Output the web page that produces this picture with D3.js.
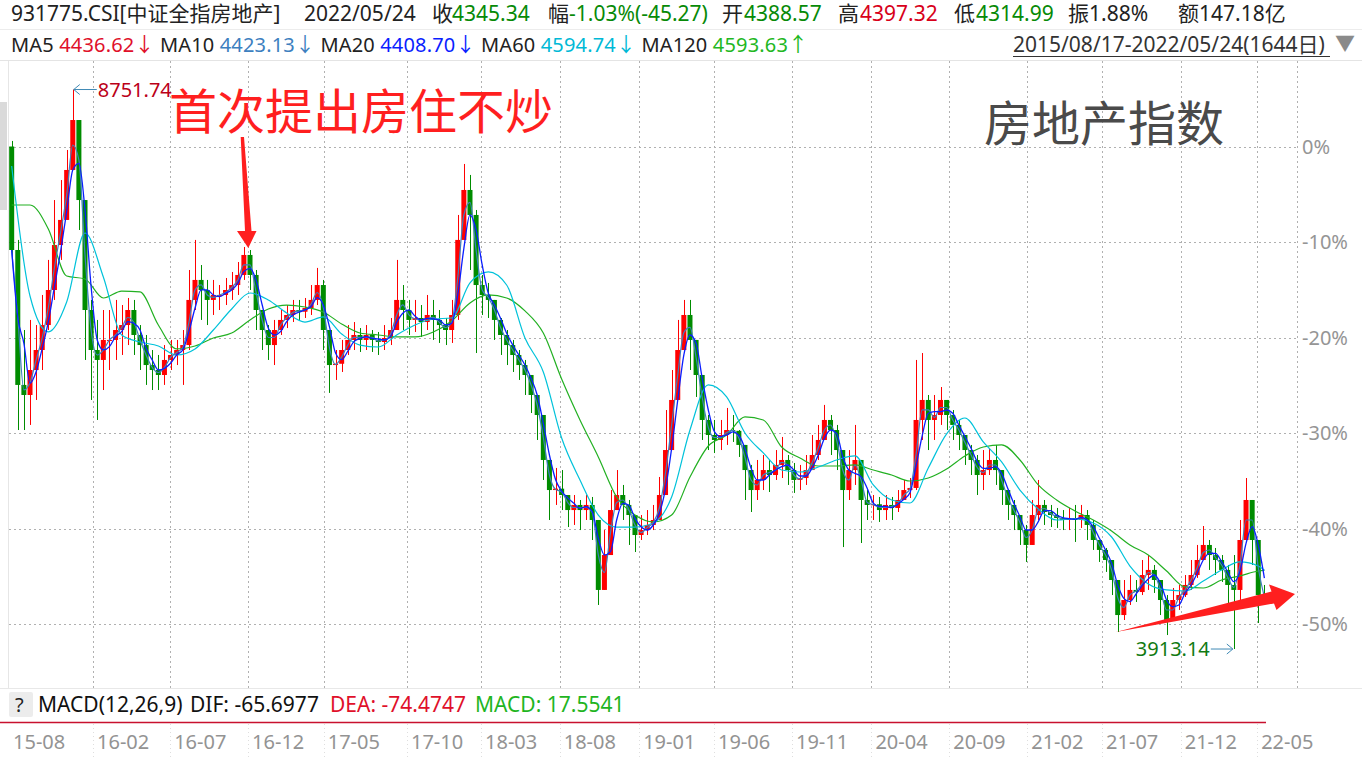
<!DOCTYPE html>
<html><head><meta charset="utf-8">
<script src="https://cdn.jsdelivr.net/npm/d3@7"></script>
<style>
body{margin:0;background:#fff;}
svg{display:block;font-family:"Noto Sans","Noto Sans CJK SC",sans-serif;}
</style></head>
<body><svg id="chart" width="1362" height="757"></svg>
<script>
// ---------------- data ----------------
const basePrice = 8259;          // price at the 0% line
const totalDays = 1644;          // trading days shown
const candleSpan = 8;            // trading days per drawn candle
const closes = [7364,6197,6110,6326,6499,6715,7018,7407,7624,8056,
8488,7796,6845,6499,6413,6586,6586,6672,6715,6845,
6629,6542,6369,6326,6283,6413,6456,6499,6542,6932,
7105,7018,6932,6975,6975,7018,7061,7148,7321,7148,
6845,6672,6542,6672,6759,6802,6845,6830,6862,6932,
7061,6672,6369,6380,6499,6586,6629,6586,6629,6586,
6568,6603,6672,6932,6845,6759,6776,6741,6802,6759,
6715,6672,6802,7451,7883,7667,7061,6975,6932,6759,
6629,6542,6456,6369,6283,6110,5937,5548,5288,5300,
5245,5115,5159,5115,5159,5029,4424,4726,5115,5245,
5159,5072,4899,4942,4986,5029,5245,5634,6067,6499,
6802,6586,6283,5894,5764,5721,5764,5807,5800,5678,
5461,5288,5375,5461,5418,5505,5548,5461,5375,5392,
5461,5591,5721,5894,5807,5634,5288,5461,5548,5202,
5159,5165,5115,5159,5133,5202,5288,5306,5894,6067,
5894,5937,6067,5937,5851,5764,5634,5548,5418,5461,
5548,5461,5288,5159,5072,4942,4813,5072,5159,5098,
5072,5046,5029,5046,5029,5072,4986,4856,4770,4683,
4510,4207,4337,4424,4406,4553,4597,4510,4337,4164,
4337,4380,4467,4553,4683,4813,4726,4683,4597,4467,
4424,4856,5202,4856,4380,4345.34];
const highs = [8307,7451,6672,6759,6715,6975,7278,7796,7969,8229,
8751.74,8488,7537,6932,6759,6845,6845,6932,6888,6949,
6932,6715,6629,6499,6456,6542,6586,6586,6672,7191,
7451,7234,7105,7105,7061,7122,7174,7260,7390,7364,
7191,6802,6715,6759,6845,6888,6932,6932,6949,7061,
7209,7105,6672,6499,6586,6715,6741,6689,6715,6672,
6655,6715,6776,7278,7061,6932,6932,6888,6975,6932,
6845,6776,6932,7667,8108,8013,7710,7148,7079,6932,
6776,6672,6586,6499,6413,6283,6110,5894,5505,5479,
5461,5245,5245,5202,5245,5228,4942,4942,5288,5461,
5332,5202,5072,5072,5115,5159,5401,5980,6326,6759,
6932,6932,6586,6153,5937,5894,5894,5998,5937,5807,
5634,5505,5548,5591,5548,5634,5747,5591,5522,5505,
5591,5764,5851,6024,5937,5851,5591,5634,5851,5548,
5288,5245,5228,5245,5228,5288,5375,5392,6413,6473,
6110,6110,6179,6067,5980,5894,5764,5678,5591,5634,
5652,5678,5418,5288,5202,5072,4986,5202,5375,5202,
5159,5133,5115,5133,5159,5159,5115,5029,4856,4787,
4683,4467,4510,4553,4510,4683,4726,4640,4510,4380,
4441,4467,4553,4683,4813,4977,4856,4787,4726,4640,
4726,5029,5392,5115,4597,4467];
const lows = [7260,5807,5807,5851,6067,6326,6672,6932,7278,7667,
8142,7537,6413,6067,5894,6153,6326,6413,6456,6542,
6456,6326,6197,6153,6153,6197,6326,6369,6197,6499,
6845,6759,6715,6802,6845,6888,6932,6975,7105,7018,
6672,6499,6413,6369,6629,6689,6741,6759,6776,6802,
6888,6499,6128,6240,6309,6456,6499,6482,6499,6482,
6456,6499,6542,6715,6672,6629,6655,6612,6672,6586,
6560,6542,6560,6759,7537,7191,6473,6802,6776,6586,
6456,6369,6309,6240,6110,5954,5721,5375,5029,5159,
5115,4968,4986,4942,5029,4856,4294,4510,4770,5115,
5029,4813,4752,4856,4899,4942,5072,5375,5721,6153,
6499,6326,6093,5721,5634,5608,5634,5678,5704,5574,
5202,5098,5202,5288,5271,5375,5392,5332,5263,5288,
5332,5461,5548,5721,5591,5461,4795,5202,5332,4830,
5029,5029,5012,5029,5029,5098,5202,5219,5288,5721,
5634,5721,5851,5807,5721,5634,5505,5418,5245,5288,
5418,5332,5159,5029,4942,4813,4666,4856,5029,4986,
4968,4960,4942,4942,4839,4960,4856,4770,4666,4580,
4380,4060,4164,4294,4320,4380,4424,4398,4207,4034,
4207,4251,4363,4424,4528,4683,4597,4553,4493,4276,
3913.14,4337,4942,4640,4138,4294];
// MA60 / MA120 read every 3rd candle (last point = last candle)
const maStep = 3;
const ma60 = [8090,6966,6655,6914,7511,7131,6629,6568,6534,6456,
6508,6672,6854,6992,6932,6819,6741,6785,6638,6542,
6525,6629,6715,6767,6776,7079,7174,7061,6603,6309,
5738,5375,5072,4968,4968,5003,5228,5807,6197,6093,
5781,5609,5461,5444,5487,5548,5583,5332,5202,5176,
5479,5773,5911,5704,5531,5288,5124,5029,5038,5003,
4882,4631,4476,4424,4415,4501,4597,4666,4631,4594.74];
const ma120 = [7753,7753,7546,7139,7113,6949,7009,7001,6715,6508,
6534,6603,6646,6759,6854,6888,6871,6828,6724,6646,
6629,6612,6612,6655,6750,6906,6975,6949,6837,6646,
6248,5894,5574,5228,5072,5012,5072,5401,5669,5764,
5920,5894,5660,5565,5496,5496,5505,5461,5418,5366,
5392,5470,5583,5660,5678,5548,5332,5202,5107,5029,
4934,4813,4726,4588,4450,4441,4510,4545,4588,4593.63];
const tickLabels = ["15-08","16-02","16-07","16-12","17-05","17-10","18-03","18-08","19-01","19-06","19-11","20-04","20-09","21-02","21-07","21-12","22-05"];
const tickDays = [0,110,211,313,412,521,618,721,825,923,1025,1129,1231,1333,1431,1534,1634];
const pctTicks = [0,-10,-20,-30,-40,-50];
const quoteRow = [
  ["931775.CSI[中证全指房地产]","#222",11],["2022/05/24","#222",304],
  ["收","#222",432],["4345.34","#078a07",452],
  ["幅","#222",548],["-1.03%(-45.27)","#078a07",569],
  ["开","#222",722],["4388.57","#078a07",744],
  ["高","#222",838],["4397.32","#d8001a",860],
  ["低","#222",954],["4314.99","#078a07",976],
  ["振1.88%","#222",1068],["额147.18亿","#222",1178]];
const maRow = [
  ["MA5 ","#222"],["4436.62↓","#e0102a"],
  [" MA10 ","#222"],["4423.13↓","#3d7fbf"],
  [" MA20 ","#222"],["4408.70↓","#0a1eff"],
  [" MA60 ","#222"],["4594.74↓","#00b9d6"],
  [" MA120 ","#222"],["4593.63↑","#22b722"]];
const macdRow = [["MACD(12,26,9)","#111",38],["DIF: -65.6977","#111",190],["DEA: -74.4747","#e0102a",330],["MACD: 17.5541","#1fb51f",475]];

// ---------------- scales ----------------
const svg = d3.select("#chart");
const x = d3.scaleLinear().domain([0, totalDays - 1]).range([9, 1264]);
const y = d3.scaleLinear().domain([-50, 0]).range([624, 146.5]);
const toPct = p => (p / basePrice - 1) * 100;
const yp = p => y(toPct(p));
const cx = i => x(i * candleSpan + (candleSpan - 1) / 2);
const bw = (x(candleSpan) - x(0)) * 0.82;

svg.append("rect").attr("width",1362).attr("height",757).attr("fill","#fff");
svg.append("defs").append("clipPath").attr("id","clip")
  .append("rect").attr("x",8).attr("y",60).attr("width",1289).attr("height",628);

// frame / separators
svg.append("line").attr("x1",0).attr("x2",1362).attr("y1",29.5).attr("y2",29.5).attr("stroke","#ececec");
svg.append("line").attr("x1",0).attr("x2",1362).attr("y1",60.5).attr("y2",60.5).attr("stroke","#e4e4e4");
svg.append("line").attr("x1",0).attr("x2",1362).attr("y1",688.5).attr("y2",688.5).attr("stroke","#e8e8e8");
svg.append("line").attr("x1",8.5).attr("x2",8.5).attr("y1",61).attr("y2",688).attr("stroke","#e6e6e6");
svg.append("rect").attr("x",0).attr("y",102).attr("width",7).attr("height",108).attr("fill","#dadada");

// grid
const grid = svg.append("g").attr("stroke","#b0b0b0").attr("stroke-dasharray","2,3").attr("stroke-width",1);
tickDays.slice(1).forEach(d => {
  const gx = Math.round(x(d)) + 0.5;
  grid.append("line").attr("x1",gx).attr("x2",gx).attr("y1",61).attr("y2",688);
  svg.append("line").attr("x1",gx).attr("x2",gx).attr("y1",724).attr("y2",757)
     .attr("stroke","#dedede").attr("stroke-dasharray","1,3");
});
grid.append("line").attr("x1",1297.5).attr("x2",1297.5).attr("y1",61).attr("y2",688);
pctTicks.forEach(p => {
  const gy = Math.round(y(p)) + 0.5;
  grid.append("line").attr("x1",9).attr("x2",1297).attr("y1",gy).attr("y2",gy);
});

// right axis labels
svg.append("g").selectAll("text").data(pctTicks).join("text")
  .attr("x",1302).attr("y",p => y(p) + 7).attr("font-size",20).attr("fill","#959595")
  .text(p => p + "%");

// date axis labels
svg.append("g").selectAll("text").data(tickLabels).join("text")
  .attr("x",(t,i) => x(tickDays[i]) + 4).attr("y",749).attr("font-size",20).attr("fill","#939393")
  .text(t => t);

// ---------------- candles ----------------
const data = closes.map((c, i) => {
  const o = i === 0 ? basePrice : closes[i - 1];
  return {i, o, c, h: Math.max(highs[i], o, c), l: Math.min(lows[i], o, c)};
});
const plot = svg.append("g").attr("clip-path","url(#clip)");
const up = "#ff0000", down = "#008c00";
plot.append("g").selectAll("line").data(data).join("line")
  .attr("x1", d => Math.round(cx(d.i)) + 0.5).attr("x2", d => Math.round(cx(d.i)) + 0.5)
  .attr("y1", d => yp(d.h)).attr("y2", d => yp(d.l))
  .attr("stroke", d => d.c >= d.o ? up : down).attr("stroke-width",1);
plot.append("g").selectAll("rect").data(data).join("rect")
  .attr("x", d => cx(d.i) - bw / 2).attr("width", bw)
  .attr("y", d => yp(Math.max(d.o, d.c)))
  .attr("height", d => Math.max(1, Math.abs(yp(d.o) - yp(d.c))))
  .attr("fill", d => d.c >= d.o ? up : down);

// ---------------- moving averages ----------------
const rolling = (arr, n) => arr.map((_, i) => d3.mean(arr.slice(Math.max(0, i - n + 1), i + 1)));
const ma10 = rolling(closes, 2);
const ma20 = rolling(closes, 3);
const lineC = d3.line().x((d, i) => cx(i)).y(d => yp(d)).curve(d3.curveMonotoneX);
const maIdx = k => Math.min(k * maStep, closes.length - 1);
const lineS = d3.line().x((d, k) => cx(maIdx(k))).y(d => yp(d)).curve(d3.curveMonotoneX);
plot.append("path").attr("d", lineS(ma120)).attr("fill","none").attr("stroke","#22b022").attr("stroke-width",1.2);
plot.append("path").attr("d", lineS(ma60)).attr("fill","none").attr("stroke","#00c2da").attr("stroke-width",1.2);
plot.append("path").attr("d", lineC(ma10)).attr("fill","none").attr("stroke","#3d7fbf").attr("stroke-width",1.2);
plot.append("path").attr("d", lineC(ma20)).attr("fill","none").attr("stroke","#0a1eff").attr("stroke-width",1.3);

// ---------------- max / min markers ----------------
const hiI = d3.maxIndex(highs), loI = d3.minIndex(lows);
const hx = cx(hiI) + 1, hy = yp(highs[hiI]);
const mk = svg.append("g").attr("stroke","#3f8ab5").attr("fill","none").attr("stroke-width",1);
mk.append("line").attr("x1",hx).attr("x2",hx + 23).attr("y1",hy).attr("y2",hy);
mk.append("path").attr("d",`M${hx+6},${hy-5}L${hx},${hy}L${hx+6},${hy+5}`);
svg.append("text").attr("x",hx + 24).attr("y",hy + 7).attr("font-size",20).attr("fill","#bb0018")
  .text(d3.format(".2f")(highs[hiI]));
const lx = cx(loI) - 1, ly = yp(lows[loI]);
mk.append("line").attr("x1",lx - 22).attr("x2",lx).attr("y1",ly).attr("y2",ly);
mk.append("path").attr("d",`M${lx-6},${ly-5}L${lx},${ly}L${lx-6},${ly+5}`);
svg.append("text").attr("x",lx - 23).attr("y",ly + 7).attr("text-anchor","end").attr("font-size",20).attr("fill","#127a12")
  .text(d3.format(".2f")(lows[loI]));

// ---------------- annotations ----------------
svg.append("text").attr("x",169).attr("y",129).attr("font-size",48).attr("fill","#ff1f1f")
  .attr("font-family","Noto Sans CJK SC").text("首次提出房住不炒");
svg.append("text").attr("x",984).attr("y",141).attr("font-size",48).attr("fill","#4a4a4a")
  .attr("font-family","Noto Sans CJK SC").text("房地产指数");
svg.append("path").attr("fill","#ff1f1f")
  .attr("d","M240.7,137L244,137L251.5,231L256.5,231L248.3,248L237,231L245,231Z");
svg.append("path").attr("fill","#ff1f1f")
  .attr("d","M1116,632L1271.5,591.5L1269,584.5L1295,594L1276.5,610L1274,603.5Z");

// ---------------- header ----------------
const hdr = (row, yy, fs) => svg.append("g").selectAll("text").data(row).join("text")
  .attr("x", d => d[2]).attr("y", yy).attr("font-size",fs).attr("fill", d => d[1]).text(d => d[0]);
hdr(quoteRow, 21, 21);
const maText = svg.append("text").attr("x",11).attr("y",52).attr("font-size",20)
  .attr("style","white-space:pre").attr("textLength",797).attr("lengthAdjust","spacing");
maText.selectAll("tspan").data(maRow).join("tspan").attr("fill", d => d[1]).text(d => d[0]);
svg.append("text").attr("x",1013).attr("y",52).attr("font-size",21).attr("fill","#333")
  .text("2015/08/17-2022/05/24(1644日)");
svg.append("line").attr("x1",1013).attr("x2",1330).attr("y1",56.5).attr("y2",56.5).attr("stroke","#333");
svg.append("text").attr("x",1335).attr("y",51).attr("font-size",20).attr("fill","#8a8a8a").text("▼");

// MACD strip
svg.append("rect").attr("x",9).attr("y",692).attr("width",24).attr("height",25).attr("rx",2).attr("fill","#ececec");
svg.append("text").attr("x",15).attr("y",712).attr("font-size",20).attr("fill","#222").text("?");
hdr(macdRow, 712, 21);
svg.append("line").attr("x1",0).attr("x2",1266).attr("y1",722.5).attr("y2",722.5).attr("stroke","#c8102e").attr("stroke-width",1.5);
</script>
</body></html>
